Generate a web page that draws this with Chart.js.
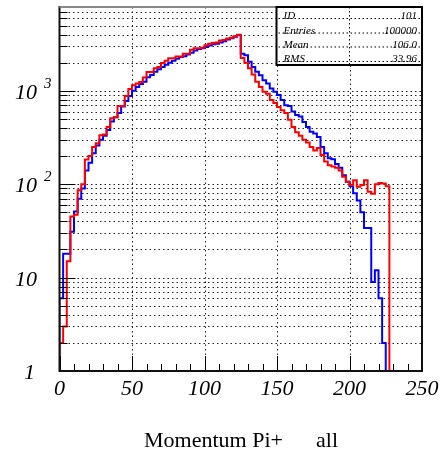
<!DOCTYPE html>
<html>
<head>
<meta charset="UTF-8">
<title>Momentum Pi+ all</title>
<script src="https://cdn.jsdelivr.net/npm/chart.js"></script>
<style>
  html, body { margin: 0; padding: 0; background: #fff; }
</style>
</head>
<body>
<canvas id="c" width="442" height="454"></canvas>
<script>
// histogram bins: 2.5 units wide, starting at 0
const binWidth = 2.5;
const xTicks = [0, 50, 100, 150, 200, 250];
const yDecades = [1, 10, 100, 1000];
const yLabels = [["1", ""], ["10", ""], ["10", "2"], ["10", "3"]];

// blue histogram (bins 0..89)
const blueCounts = [
  6, 18, 18, 31, 51, 70, 90, 140, 170, 215,
  260, 300, 330, 380, 470, 520, 580, 680, 780, 880,
  1000, 1100, 1180, 1250, 1400, 1480, 1600, 1700, 1800, 1900,
  2000, 2100, 2200, 2300, 2350, 2450, 2550, 2700, 2800, 2850,
  2950, 3050, 3150, 3200, 3300, 3400, 3550, 3650, 3800, 3950,
  2500, 2400, 2050, 1800, 1600, 1470, 1300, 1200, 1060, 980,
  900, 800, 700, 690, 600, 550, 530, 465, 410, 365,
  350, 320, 250, 215, 190, 185, 165, 150, 125, 106,
  95, 80, 67, 50, 34, 34, 9, 12, 6, 2
];

// red histogram (bins 0..90)
const redCounts = [
  2, 3, 15, 45, 47, 86, 100, 184, 200, 250,
  275, 335, 340, 410, 510, 520, 690, 690, 880, 1045,
  1150, 1200, 1240, 1390, 1590, 1590, 1750, 1800, 1990, 2100,
  2230, 2230, 2330, 2330, 2500, 2500, 2750, 2860, 2860, 2900,
  3070, 3200, 3250, 3300, 3450, 3500, 3630, 3700, 3840, 3980,
  2250, 2000, 1750, 1500, 1250, 1100, 980, 930, 800, 740,
  670, 620, 580, 490, 410, 360, 330, 300, 280, 250,
  230, 245, 205, 175, 160, 155, 150, 140, 120, 106,
  98, 110, 94, 98, 110, 83, 79, 100, 103, 102,
  95
];

const statsNames = ["ID", "Entries", "Mean", "RMS"];
const statsValues = ["101", "100000", "106.0", "33.96"];

const X_MAX = 250;
const Y_MIN = 1;
const Y_MAX = 7900;

// turn bin contents into step points (empty bins sit on the axis floor)
function histPoints(counts, xEnd) {
  const pts = [{ x: 0, y: Y_MIN }];
  counts.forEach((c, i) => pts.push({ x: i * binWidth, y: c > 0 ? c : Y_MIN }));
  pts.push({ x: counts.length * binWidth, y: Y_MIN });
  if (xEnd > counts.length * binWidth) pts.push({ x: xEnd, y: Y_MIN });
  return pts;
}

const serif = '"Liberation Serif", "Times New Roman", serif';

function hline(ctx, x1, x2, y) { ctx.beginPath(); ctx.moveTo(x1, y); ctx.lineTo(x2, y); ctx.stroke(); }
function vline(ctx, x, y1, y2) { ctx.beginPath(); ctx.moveTo(x, y1); ctx.lineTo(x, y2); ctx.stroke(); }

const rootStyle = {
  id: 'rootStyle',
  beforeDatasetsDraw(chart) {
    const { ctx, chartArea: a, scales: { x, y } } = chart;
    ctx.save();
    ctx.strokeStyle = '#222';
    ctx.lineWidth = 1;
    ctx.setLineDash([1.5, 3]);
    xTicks.slice(1, -1).forEach(v => {
      const px = Math.round(x.getPixelForValue(v)) + 0.5;
      vline(ctx, px, a.top, a.bottom);
    });
    yDecades.forEach(d => {
      for (let m = 1; m <= 9; m++) {
        const v = m * d;
        if (v <= Y_MIN || v >= Y_MAX) continue;
        const py = Math.round(y.getPixelForValue(v)) + 0.5;
        hline(ctx, a.left, a.right, py);
      }
    });
    ctx.restore();
  },
  afterDatasetsDraw(chart) {
    const { ctx, chartArea: a, scales: { x, y } } = chart;
    ctx.save();
    ctx.setLineDash([]);
    ctx.strokeStyle = '#000';
    ctx.lineWidth = 1;

    // y ticks
    yDecades.forEach(d => {
      for (let m = 1; m <= 9; m++) {
        const v = m * d;
        if (v < Y_MIN || v >= Y_MAX) continue;
        const py = Math.round(y.getPixelForValue(v)) + 0.5;
        hline(ctx, a.left, a.left + (m === 1 ? 16 : 8), py);
      }
    });
    // x ticks, every 10
    for (let v = 0; v <= X_MAX; v += 10) {
      const px = Math.round(x.getPixelForValue(v)) + 0.5;
      vline(ctx, px, a.bottom, a.bottom - (v % 50 === 0 ? 15 : 7));
    }

    // frame
    ctx.lineWidth = 2;
    ctx.strokeStyle = '#111';
    ctx.strokeRect(a.left, a.top, a.right - a.left, a.bottom - a.top);
    ctx.strokeStyle = '#888';
    hline(ctx, a.left, a.right, a.top);

    // tick labels
    ctx.fillStyle = '#000';
    ctx.textBaseline = 'alphabetic';
    ctx.font = 'italic 22px ' + serif;
    ctx.textAlign = 'center';
    xTicks.forEach(v => ctx.fillText(String(v), x.getPixelForValue(v), 395));
    yDecades.forEach((d, i) => {
      const py = y.getPixelForValue(d);
      const [base, sup] = yLabels[i];
      ctx.font = 'italic 22px ' + serif;
      ctx.textAlign = 'right';
      ctx.fillText(base, base === '1' ? 35 : 37, py + 8);
      if (sup) {
        ctx.font = 'italic 15px ' + serif;
        ctx.textAlign = 'left';
        ctx.fillText(sup, 44, py - 3);
      }
    });

    // axis title
    ctx.font = '22px ' + serif;
    ctx.textAlign = 'left';
    ctx.fillText('Momentum Pi+', 144, 447);
    ctx.fillText('all', 316, 447);

    // stats box
    const bx = 276.5, by = a.top, bw = a.right - bx, bh = 58;
    ctx.fillStyle = '#fff';
    ctx.fillRect(bx, by, bw, bh);
    ctx.strokeStyle = '#000';
    ctx.lineWidth = 1;
    ctx.setLineDash([1.5, 2.5]);
    const rowBase = [19, 33.5, 47.5, 62];
    rowBase.forEach(b => hline(ctx, bx + 2, bx + bw - 2, b - 0.5));
    vline(ctx, Math.round(bx + bw / 2) + 0.5, by, by + bh);
    ctx.setLineDash([]);
    ctx.lineWidth = 2;
    ctx.strokeRect(bx, by, bw, bh);
    ctx.fillStyle = '#000';
    ctx.font = 'italic 11px ' + serif;
    statsNames.forEach((n, i) => {
      ctx.textAlign = 'left';
      ctx.fillText(n, bx + 7, rowBase[i]);
      ctx.textAlign = 'right';
      ctx.fillText(statsValues[i], bx + bw - 5, rowBase[i]);
    });
    ctx.restore();
  }
};

new Chart(document.getElementById('c'), {
  type: 'line',
  data: {
    datasets: [
      { label: 'red', data: histPoints(redCounts, 0), borderColor: '#ff0000', borderWidth: 2, stepped: true, pointRadius: 0, fill: false },
      { label: 'blue', data: histPoints(blueCounts, X_MAX), borderColor: '#0000ff', borderWidth: 2, stepped: true, pointRadius: 0, fill: false }
    ]
  },
  options: {
    responsive: false,
    animation: false,
    devicePixelRatio: 1,
    layout: { padding: { left: 59.5, right: 20, top: 7, bottom: 83 } },
    plugins: { legend: { display: false }, tooltip: { enabled: false } },
    scales: {
      x: {
        type: 'linear', min: 0, max: X_MAX,
        ticks: { display: false }, grid: { display: false }, border: { display: false },
        afterFit: s => { s.height = 0; }
      },
      y: {
        type: 'logarithmic', min: Y_MIN, max: Y_MAX,
        ticks: { display: false }, grid: { display: false }, border: { display: false },
        afterFit: s => { s.width = 0; }
      }
    }
  },
  plugins: [rootStyle]
});
</script>
</body>
</html>
